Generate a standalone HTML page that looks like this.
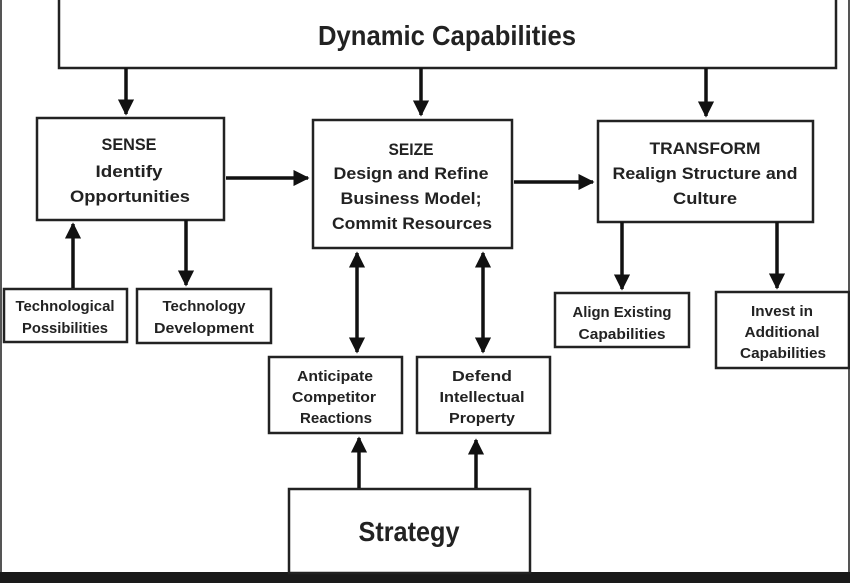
<!DOCTYPE html>
<html><head><meta charset="utf-8"><style>
html,body{margin:0;padding:0;background:#fff;}
svg{display:block;}
text{font-family:"Liberation Sans",sans-serif;font-weight:bold;fill:#222;text-anchor:middle;}
</style></head><body>
<svg width="850" height="583" viewBox="0 0 850 583" xmlns="http://www.w3.org/2000/svg">
<defs>
<marker id="a" viewBox="0 0 10 10" refX="9" refY="5" markerWidth="4.6" markerHeight="4.6" orient="auto-start-reverse"><path d="M0,0 L10,5 L0,10 z" fill="#111"/></marker>
</defs>
<rect x="0" y="0" width="850" height="583" fill="#fff"/>
<line x1="1" y1="0" x2="1" y2="575" stroke="#555" stroke-width="2"/>
<line x1="849" y1="0" x2="849" y2="575" stroke="#555" stroke-width="2"/>
<rect x="0" y="572" width="850" height="11" fill="#1a1a1a"/>
<g fill="none" stroke="#222" stroke-width="2.5">
<rect x="59" y="-3" width="777" height="71"/>
<rect x="37" y="118" width="187" height="102"/>
<rect x="313" y="120" width="199" height="128"/>
<rect x="598" y="121" width="215" height="101"/>
<rect x="4" y="289" width="123" height="53"/>
<rect x="137" y="289" width="134" height="54"/>
<rect x="555" y="293" width="134" height="54"/>
<rect x="716" y="292" width="133" height="76"/>
<rect x="269" y="357" width="133" height="76"/>
<rect x="417" y="357" width="133" height="76"/>
<rect x="289" y="489" width="241" height="84"/>
</g>
<g stroke="#111" stroke-width="3.5" fill="none" marker-end="url(#a)">
<line x1="126" y1="68" x2="126" y2="114"/>
<line x1="421" y1="68" x2="421" y2="115"/>
<line x1="706" y1="68" x2="706" y2="116"/>
<line x1="226" y1="178" x2="308" y2="178"/>
<line x1="514" y1="182" x2="593" y2="182"/>
<line x1="73" y1="288" x2="73" y2="224"/>
<line x1="186" y1="220" x2="186" y2="285"/>
<line x1="622" y1="222" x2="622" y2="289"/>
<line x1="777" y1="222" x2="777" y2="288"/>
<line x1="357" y1="253" x2="357" y2="352" marker-start="url(#a)"/>
<line x1="483" y1="253" x2="483" y2="352" marker-start="url(#a)"/>
<line x1="359" y1="488" x2="359" y2="438"/>
<line x1="476" y1="488" x2="476" y2="440"/>
</g>
<g font-size="17">
<text x="447" y="45" font-size="28" textLength="258" lengthAdjust="spacingAndGlyphs">Dynamic Capabilities</text>
<text x="129" y="150" textLength="55" lengthAdjust="spacingAndGlyphs">SENSE</text>
<text x="129" y="177" textLength="67" lengthAdjust="spacingAndGlyphs">Identify</text>
<text x="130" y="202" textLength="120" lengthAdjust="spacingAndGlyphs">Opportunities</text>
<text x="411" y="155" textLength="45" lengthAdjust="spacingAndGlyphs">SEIZE</text>
<text x="411" y="179" textLength="155" lengthAdjust="spacingAndGlyphs">Design and Refine</text>
<text x="411" y="204" textLength="141" lengthAdjust="spacingAndGlyphs">Business Model;</text>
<text x="412" y="229" textLength="160" lengthAdjust="spacingAndGlyphs">Commit Resources</text>
<text x="705" y="154" textLength="111" lengthAdjust="spacingAndGlyphs">TRANSFORM</text>
<text x="705" y="179" textLength="185" lengthAdjust="spacingAndGlyphs">Realign Structure and</text>
<text x="705" y="204" textLength="64" lengthAdjust="spacingAndGlyphs">Culture</text>
</g>
<g font-size="14.5">
<text x="65" y="311" textLength="99" lengthAdjust="spacingAndGlyphs">Technological</text>
<text x="65" y="333" textLength="86" lengthAdjust="spacingAndGlyphs">Possibilities</text>
<text x="204" y="311" textLength="83" lengthAdjust="spacingAndGlyphs">Technology</text>
<text x="204" y="333" textLength="100" lengthAdjust="spacingAndGlyphs">Development</text>
<text x="622" y="317" textLength="99" lengthAdjust="spacingAndGlyphs">Align Existing</text>
<text x="622" y="339" textLength="87" lengthAdjust="spacingAndGlyphs">Capabilities</text>
<text x="782" y="316" textLength="62" lengthAdjust="spacingAndGlyphs">Invest in</text>
<text x="782" y="337" textLength="75" lengthAdjust="spacingAndGlyphs">Additional</text>
<text x="783" y="358" textLength="86" lengthAdjust="spacingAndGlyphs">Capabilities</text>
<text x="335" y="381" textLength="76" lengthAdjust="spacingAndGlyphs">Anticipate</text>
<text x="334" y="402" textLength="84" lengthAdjust="spacingAndGlyphs">Competitor</text>
<text x="336" y="423" textLength="72" lengthAdjust="spacingAndGlyphs">Reactions</text>
<text x="482" y="381" textLength="60" lengthAdjust="spacingAndGlyphs">Defend</text>
<text x="482" y="402" textLength="85" lengthAdjust="spacingAndGlyphs">Intellectual</text>
<text x="482" y="423" textLength="66" lengthAdjust="spacingAndGlyphs">Property</text>
</g>
<text x="409" y="541" font-size="28" textLength="101" lengthAdjust="spacingAndGlyphs">Strategy</text>
</svg>
</body></html>
